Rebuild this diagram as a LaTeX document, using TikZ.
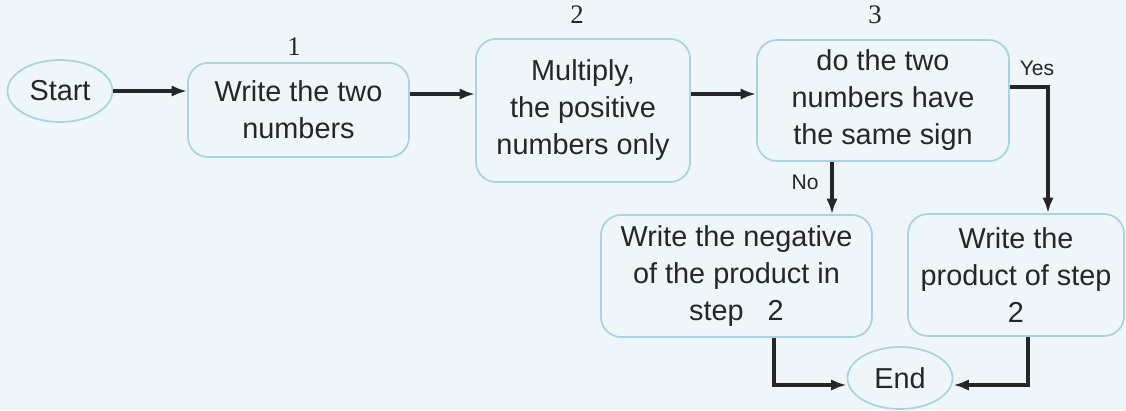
\documentclass[tikz,border=0pt]{standalone}
\usepackage{fontspec}
\setsansfont{Liberation Sans}
\newfontfamily\numfont{Liberation Serif}
\usetikzlibrary{shapes.geometric,arrows.meta}

\definecolor{bgblue}{HTML}{EEF6F9}
\definecolor{boxline}{HTML}{A3D4DF}
\definecolor{ink}{HTML}{262626}

\tikzset{
  stepbox/.style={draw=boxline, line width=1.2pt, rounded corners=0.5cm, align=center,
    text=ink, inner sep=0pt, font=\sffamily\fontsize{20.5}{26.3}\selectfont},
  terminal/.style={ellipse, draw=boxline, line width=1.2pt, text=ink, inner sep=0pt,
    minimum width=2.625cm, minimum height=1.55cm, font=\sffamily\fontsize{20.5}{26.3}\selectfont},
  steplabel/.style={text=ink, font=\numfont\fontsize{19}{19}\selectfont},
  branch/.style={text=ink, font=\sffamily\fontsize{15}{15}\selectfont},
  flow/.style={->, draw=ink, line width=2.4pt},
}

\begin{document}
\begin{tikzpicture}[x=0.025cm, y=-0.025cm, >={Latex[length=11pt,width=8pt]}]
\useasboundingbox (0,0) rectangle (1126,410);
\fill[bgblue] (0,0) rectangle (1126,410);

% nodes
\node[terminal] (start) at (60,91) {Start};
\node[stepbox, minimum width=5.525cm, minimum height=2.35cm] (write) at (298.5,110) {Write the two\\numbers};
\node[stepbox, minimum width=5.35cm, minimum height=3.575cm] (mult) at (583,110.5) {Multiply,\\the positive\\numbers only};
\node[stepbox, minimum width=6.3cm, minimum height=3.025cm] (check) at (883,100.5) {do the two\\numbers have\\the same sign};
\node[stepbox, minimum width=6.775cm, minimum height=3.05cm] (neg) at (736.5,276) {Write the negative\\of the product in\\step\ \ \ 2};
\node[stepbox, minimum width=5.4cm, minimum height=3.05cm] (prod) at (1016,275) {Write the\\product of step\\2};
\node[terminal] (end) at (900,378) {End};

\node[steplabel] (n1) at (294,47) {1};
\node[steplabel] (n2) at (577,15) {2};
\node[steplabel] (n3) at (875,15) {3};

% connectors
\coordinate (lane) at (0,94);
\coordinate (yesturn) at (1048,87);
\coordinate (nocol) at (832,0);
\coordinate (negturn) at (774,385);
\coordinate (prodturn) at (1028,385);

\draw[flow] (start.east) -- (start.east -| write.west);
\draw[flow] (write.east |- lane) -- (mult.west |- lane);
\draw[flow] (mult.east |- lane) -- (check.west |- lane);
\draw[flow] (check.east |- yesturn) -- (yesturn) -- (yesturn |- prod.north);
\draw[flow] (check.south -| nocol) -- (neg.north -| nocol);
\draw[flow] (neg.south -| negturn) -- (negturn) -- (negturn -| end.west);
\draw[flow] (prod.south -| prodturn) -- (prodturn) -- (prodturn -| end.east);

\node[branch] (yes) at (1037,68) {Yes};
\node[branch] (no) at (805,182) {No};
\end{tikzpicture}
\end{document}
